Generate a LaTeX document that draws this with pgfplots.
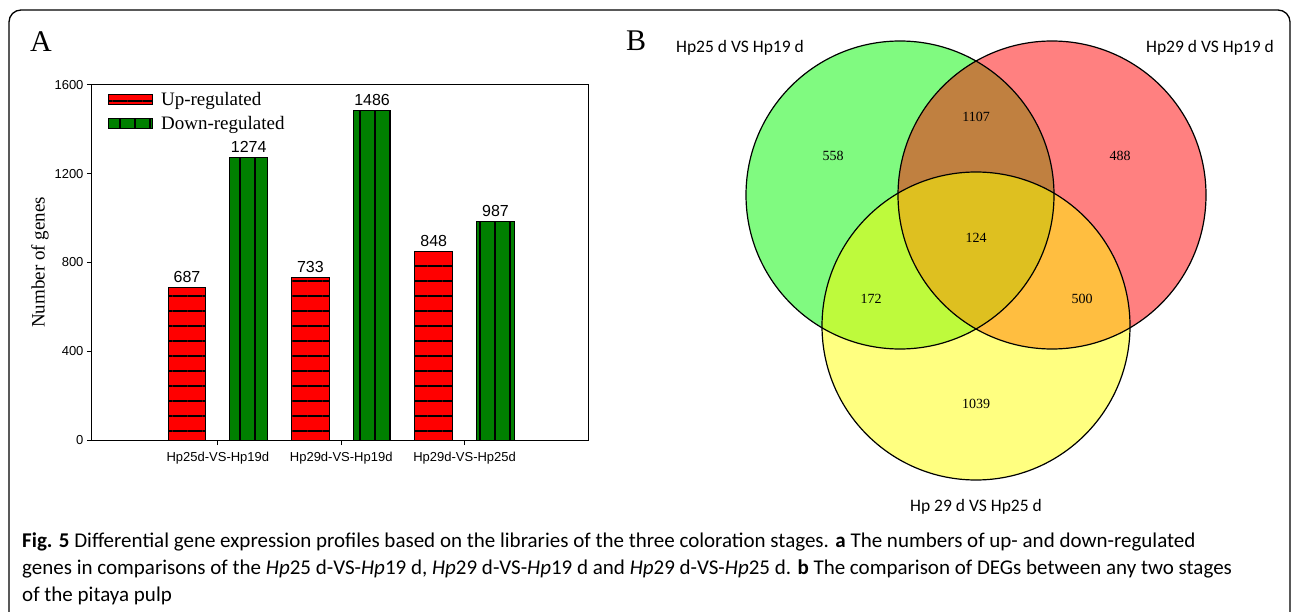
\documentclass[border=0pt]{standalone}
\usepackage{fontspec}
\setmainfont{Liberation Serif}
\newfontfamily\arial{Liberation Sans}
\newfontfamily\calib{Carlito}
\usepackage{pgfplots}
\pgfplotsset{compat=1.18}
\usetikzlibrary{patterns.meta}
\pgfplotsset{/pgf/number format/1000 sep={}}
\definecolor{vgreen}{RGB}{128,250,128}
\definecolor{vred}{RGB}{255,128,128}
\definecolor{vyellow}{RGB}{255,255,128}
\definecolor{vbrown}{RGB}{192,128,64}
\definecolor{vlime}{RGB}{190,250,60}
\definecolor{vorange}{RGB}{255,190,64}
\definecolor{vmust}{RGB}{222,192,32}
\definecolor{bargreen}{RGB}{0,128,0}
\begin{document}
\begin{tikzpicture}[x=1pt,y=1pt]
\useasboundingbox (0,0) rectangle (1292,611);
% outer frame
\draw[line width=1.3pt, rounded corners=12pt] (9,-10) -- (9,601) -- (1290,601) -- (1290,-10);
% panel letters
\node[anchor=base west, inner sep=0pt, font=\fontsize{30}{30}\selectfont] at (30,559) {A};
\node[anchor=base west, inner sep=0pt, font=\fontsize{30}{30}\selectfont] at (626,560) {B};

% ---------- bar chart ----------
\begin{axis}[
  at={(92pt,171pt)}, anchor=south west,
  scale only axis, width=496pt, height=355pt,
  xmin=-0.02, xmax=4, ymin=0, ymax=1600,
  ytick={0,400,800,1200,1600},
  xtick={1,2,3},
  xticklabels={Hp25d-VS-Hp19d,Hp29d-VS-Hp19d,Hp29d-VS-Hp25d},
  tick align=outside, xtick pos=lower, ytick pos=left,
  major tick length=5pt,
  axis line style={line width=1pt}, every tick/.style={line width=1pt, black},
  ticklabel style={font=\arial\fontsize{13}{13}\selectfont},
  /pgf/number format/assume math mode=true,
  xticklabel style={yshift=-4pt},
  every axis y label/.style={at={(axis description cs:-0.105,0.5)}, rotate=90, anchor=center, font=\fontsize{19}{19}\selectfont},
  ylabel={Number of genes},
  legend style={at={(axis description cs:0.032,0.985)}, anchor=north west, draw=none, fill=none, inner sep=0pt,
    font=\fontsize{19}{19}\selectfont, row sep=5pt,
    /tikz/every even column/.append style={column sep=0pt}},
  legend cell align=left,
  legend image code/.code={\draw[#1] (0pt,-5pt) rectangle (44pt,5pt);},
  nodes near coords,
  every node near coord/.append style={font=\arial\fontsize{16}{16}\selectfont, anchor=base, inner sep=0pt, yshift=5pt, black},
]
\addplot[ybar, bar width=0.305, fill=red, draw=black, line width=1pt,
  postaction={pattern={Lines[angle=0,distance=15pt,line width=1.1pt]}, pattern color=black}]
  coordinates {(0.75,687) (1.75,733) (2.75,848)};
\addplot[ybar, bar width=0.305, fill=bargreen, draw=black, line width=1pt,
  postaction={pattern={Lines[angle=90,distance=15pt,line width=1.1pt]}, pattern color=black}]
  coordinates {(1.25,1274) (2.25,1486) (3.25,987)};
\legend{\hspace{6pt}Up-regulated,\hspace{6pt}Down-regulated}
\end{axis}

% ---------- Venn diagram ----------
\begin{axis}[
  at={(600pt,91pt)}, anchor=south west,
  scale only axis, width=692pt, height=520pt,
  xmin=600, xmax=1292, ymin=91, ymax=611,
  hide axis, clip=false,
]
\fill[vgreen] (axis cs:900,416) circle[radius=154];
\fill[vred] (axis cs:1052,416) circle[radius=154];
\fill[vyellow] (axis cs:976,285) circle[radius=154];
\begin{scope}
\clip (axis cs:900,416) circle[radius=154];
\fill[vbrown] (axis cs:1052,416) circle[radius=154];
\fill[vlime] (axis cs:976,285) circle[radius=154];
\end{scope}
\begin{scope}
\clip (axis cs:1052,416) circle[radius=154];
\fill[vorange] (axis cs:976,285) circle[radius=154];
\end{scope}
\begin{scope}
\clip (axis cs:900,416) circle[radius=154];
\clip (axis cs:1052,416) circle[radius=154];
\fill[vmust] (axis cs:976,285) circle[radius=154];
\end{scope}
\draw[line width=1.2pt] (axis cs:900,416) circle[radius=154];
\draw[line width=1.2pt] (axis cs:1052,416) circle[radius=154];
\draw[line width=1.2pt] (axis cs:976,285) circle[radius=154];
% counts
\begin{scope}[every node/.style={font=\fontsize{14}{14}\selectfont, inner sep=0pt}]
\node at (axis cs:833,455) {558};
\node at (axis cs:976,494) {1107};
\node at (axis cs:1120,455) {488};
\node at (axis cs:976,373) {124};
\node at (axis cs:871,312) {172};
\node at (axis cs:1082,312) {500};
\node at (axis cs:976,207) {1039};
\end{scope}
% set labels
\begin{scope}[every node/.style={font=\calib\fontsize{17.5}{17.5}\selectfont, inner sep=0pt}]
\node at (axis cs:740,563) {Hp25 d VS Hp19 d};
\node at (axis cs:1210,563) {Hp29 d VS Hp19 d};
\node at (axis cs:976,104) {Hp 29 d VS Hp25 d};
\end{scope}
\end{axis}

% ---------- caption ----------
\begin{scope}[every node/.style={anchor=base west, inner sep=0pt, font=\calib\fontsize{21}{21}\selectfont}]
\node at (22,64) {{\bfseries Fig. 5} Differential gene expression profiles based on the libraries of the three coloration stages. {\bfseries a} The numbers of up- and down-regulated};
\node at (22,37) {genes in comparisons of the \textit{Hp}25 d-VS-\textit{Hp}19 d, \textit{Hp}29 d-VS-\textit{Hp}19 d and \textit{Hp}29 d-VS-\textit{Hp}25 d. {\bfseries b} The comparison of DEGs between any two stages};
\node at (22,10) {of the pitaya pulp};
\end{scope}
\end{tikzpicture}
\end{document}
